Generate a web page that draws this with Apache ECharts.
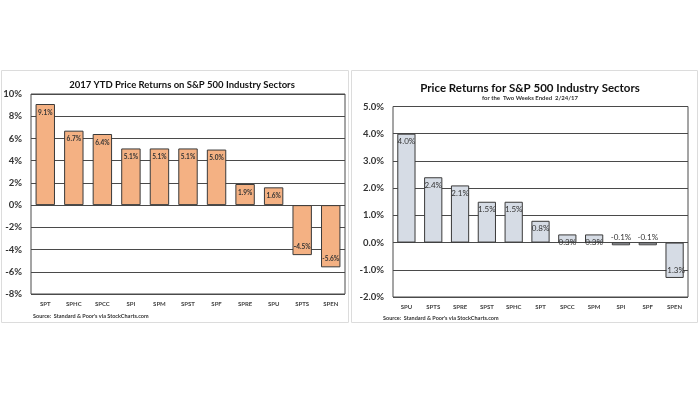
<!DOCTYPE html>
<html><head><meta charset="utf-8">
<script src="https://cdn.jsdelivr.net/npm/echarts@6/dist/echarts.min.js"></script>
<style>html,body{margin:0;padding:0;background:#fff}#c{width:700px;height:394px}</style>
</head><body><div id="c"></div>
<script>
const leftCategories = ['SPT','SPHC','SPCC','SPI','SPM','SPST','SPF','SPRE','SPU','SPTS','SPEN'];
const leftValues = [9.1, 6.7, 6.4, 5.1, 5.1, 5.1, 5.0, 1.9, 1.6, -4.5, -5.6];
const rightCategories = ['SPU','SPTS','SPRE','SPST','SPHC','SPT','SPCC','SPM','SPI','SPF','SPEN'];
const rightValues = [4.0, 2.4, 2.1, 1.5, 1.5, 0.8, 0.3, 0.3, -0.1, -0.1, -1.3];
const leftTitle = '2017 YTD Price Returns on S&P 500 Industry Sectors';
const rightTitle = 'Price Returns for S&P 500 Industry Sectors';
const rightSubtitle = 'for the  Two Weeks Ended  2/24/17';
const sourceText = "Source:  Standard & Poor's via StockCharts.com";

const FONT = 'Lato, "Liberation Sans", sans-serif';
const chart = echarts.init(document.getElementById('c'), null, {renderer: 'canvas'});

function dataWithLabels(vals, labelStyle) {
  return vals.map(v => ({
    value: v,
    label: Object.assign({position: v >= 0 ? 'insideTop' : 'insideBottom'}, labelStyle)
  }));
}

chart.setOption({
  animation: false,
  textStyle: {fontFamily: FONT},
  graphic: [
    {type: 'rect', shape: {x: 1.5, y: 70.5, width: 347, height: 252}, style: {fill: 'none', stroke: '#dcdcdc', lineWidth: 1}, z: -1},
    {type: 'rect', shape: {x: 351.5, y: 70.5, width: 346, height: 252}, style: {fill: 'none', stroke: '#dcdcdc', lineWidth: 1}, z: -1},
    {type: 'text', left: 33, top: 313, style: {text: sourceText, font: 'bold 5.5px ' + FONT, fill: '#333'}},
    {type: 'text', left: 383, top: 315, style: {text: sourceText, font: 'bold 5.5px ' + FONT, fill: '#333'}}
  ],
  title: [
    {text: leftTitle, left: 177, top: 75, textAlign: 'center',
     textStyle: {fontSize: 9.5, fontWeight: 'bold', color: '#111', fontFamily: FONT}},
    {text: rightTitle, left: 525, top: 77, textAlign: 'center',
     subtext: rightSubtitle, itemGap: 1,
     textStyle: {fontSize: 11.5, fontWeight: 'bold', color: '#111', fontFamily: FONT},
     subtextStyle: {fontSize: 6, fontWeight: 'bold', color: '#333', fontFamily: FONT}}
  ],
  grid: [
    {left: 31, right: 355, top: 94, height: 200, show: true, borderColor: '#4a4a4a', borderWidth: 1, containLabel: false},
    {left: 393, right: 12, top: 106.5, height: 190.5, show: true, borderColor: '#4a4a4a', borderWidth: 1, containLabel: false}
  ],
  xAxis: [
    {type: 'category', gridIndex: 0, data: leftCategories, axisLine: {show: false}, axisTick: {show: false},
     axisLabel: {fontSize: 6, fontWeight: 'bold', color: '#444', margin: 7, interval: 0}},
    {type: 'category', gridIndex: 1, data: rightCategories, axisLine: {show: false}, axisTick: {show: false},
     axisLabel: {fontSize: 6, fontWeight: 'bold', color: '#444', margin: 7, interval: 0}}
  ],
  yAxis: [
    {type: 'value', gridIndex: 0, min: -8, max: 10, interval: 2,
     axisLine: {show: false}, axisTick: {show: false},
     splitLine: {lineStyle: {color: '#4a4a4a', width: 1}},
     axisLabel: {formatter: '{value}%', fontSize: 9.5, fontWeight: 'bold', color: '#333', margin: 9}},
    {type: 'value', gridIndex: 1, min: -2, max: 5, interval: 1,
     axisLine: {show: false}, axisTick: {show: false},
     splitLine: {lineStyle: {color: '#4a4a4a', width: 1}},
     axisLabel: {formatter: v => v.toFixed(1) + '%', fontSize: 9.5, fontWeight: 'bold', color: '#333', margin: 9}}
  ],
  series: [
    {type: 'bar', xAxisIndex: 0, yAxisIndex: 0, barCategoryGap: '32%',
     itemStyle: {color: '#F4B183', borderColor: '#3a3a3a', borderWidth: 1},
     label: {show: true, formatter: p => p.value.toFixed(1) + '%', fontSize: 6.5, fontWeight: 'bold', color: '#333', distance: 5},
     data: dataWithLabels(leftValues, {})},
    {type: 'bar', xAxisIndex: 1, yAxisIndex: 1, barCategoryGap: '32%',
     itemStyle: {color: '#D6DCE5', borderColor: '#3a3a3a', borderWidth: 1},
     label: {show: true, formatter: p => p.value.toFixed(1) + '%', fontSize: 8, color: '#333', distance: 4},
     data: dataWithLabels(rightValues, {})}
  ]
});
</script></body></html>
